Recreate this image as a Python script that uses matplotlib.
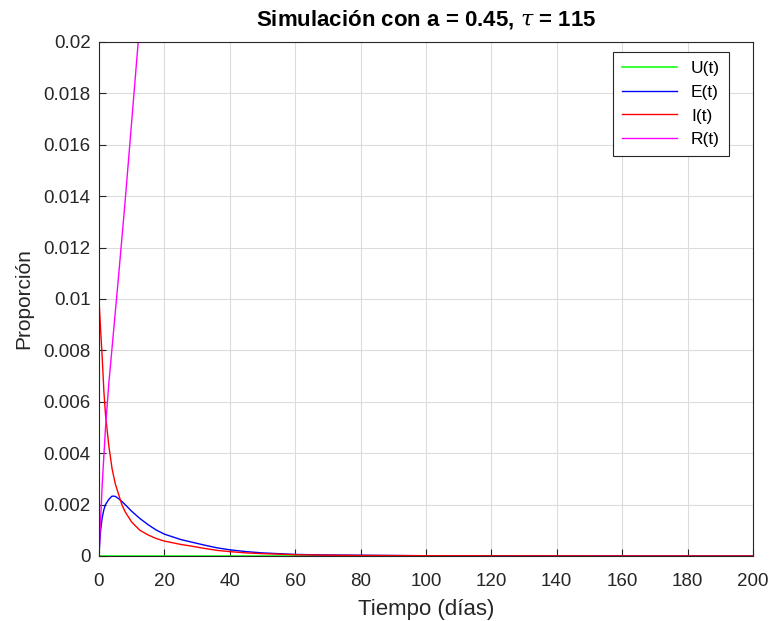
import matplotlib
matplotlib.use('Agg')
import matplotlib.pyplot as plt
from matplotlib.ticker import FormatStrFormatter, MultipleLocator

plt.rcParams['font.family'] = ['Liberation Sans', 'DejaVu Sans']
plt.rcParams['mathtext.fontset'] = 'dejavuserif'

# values
t_u = [0, 50, 101]
u_vals = [0, 0, 0]

t_e = [0, 0.25, 0.5, 1, 1.5, 2, 3, 4, 5, 6, 7, 8, 10, 12.5, 15, 17.5, 20, 25, 28, 32,
       36, 40, 45, 50, 55, 60, 70, 80, 100, 130, 200]
e_vals = [0, 0.0006, 0.001, 0.0015, 0.0018, 0.002, 0.0022, 0.00233, 0.00232, 0.00223,
          0.00212, 0.002, 0.00174, 0.00146, 0.00122, 0.00101, 0.00085, 0.00064, 0.00055,
          0.00043, 0.00032, 0.00024, 0.00017, 0.00012, 0.00009, 0.00006, 0.00004,
          0.00003, 0.00001, 0.000005, 0]

t_i = [0, 0.25, 0.5, 1, 1.5, 2, 3, 4, 5, 6, 7, 8, 10, 12.5, 15, 17.5, 20, 25, 28, 32,
       36, 40, 45, 50, 60, 70, 80, 100, 130, 200]
i_vals = [0.01, 0.0094, 0.0088, 0.0077, 0.0064, 0.0055, 0.0043, 0.0034, 0.0028, 0.0024,
          0.002, 0.00172, 0.00132, 0.001, 0.00082, 0.00068, 0.00058, 0.00045, 0.00039,
          0.0003, 0.00022, 0.00017, 0.00012, 0.00009, 0.00005, 0.00003, 0.00002,
          0.00001, 0.000005, 0]

t_r = [0, 1, 2, 3, 4, 5, 6, 8, 10, 12, 13]
r_vals = [0, 0.0028, 0.005, 0.0067, 0.0081, 0.0095, 0.0109, 0.0138, 0.0169, 0.02, 0.0215]

fig = plt.figure(figsize=(7.69, 6.21), dpi=100)
ax = fig.add_axes([0.1287, 0.1047, 0.8504, 0.8277])

ax.plot(t_u, u_vals, color='#00ff00', lw=1.1, label='U(t)')
ax.plot(t_e, e_vals, color='#0000ff', lw=1, label='E(t)')
ax.plot(t_i, i_vals, color='#ff0000', lw=1, label='I(t)')
ax.plot(t_r, r_vals, color='#ff00ff', lw=1, label='R(t)')

ax.set_xlim(0, 200)
ax.set_ylim(0, 0.02)
ax.xaxis.set_major_locator(MultipleLocator(20))
ax.yaxis.set_major_locator(MultipleLocator(0.002))
ax.yaxis.set_major_formatter(FormatStrFormatter('%g'))
ax.tick_params(direction='in', length=5, width=0.8, labelsize=13.5, colors='#262626',
               top=False, right=False, pad=6)
ax.tick_params(axis='x', pad=12)
ax.grid(True, color='#dcdcdc', lw=0.8)
ax.set_axisbelow(True)
for s in ax.spines.values():
    s.set_color('#262626')
    s.set_linewidth(0.8)

ax.set_xlabel('Tiempo (días)', fontsize=16, color='#262626', labelpad=7)
ax.set_ylabel('Proporción', fontsize=15, color='#262626', labelpad=7)
ax.set_title(r'Simulación con a = 0.45, $\tau$ = 115', fontsize=16, fontweight='bold',
             pad=12)

leg = ax.legend(loc='upper right', bbox_to_anchor=(0.963, 0.9805), fontsize=12.5,
                fancybox=False, framealpha=1, edgecolor='#262626', borderpad=0.5,
                labelspacing=0.5, handlelength=3.2, borderaxespad=0)
leg.get_frame().set_linewidth(0.8)

fig.savefig('out.png', dpi=100)
